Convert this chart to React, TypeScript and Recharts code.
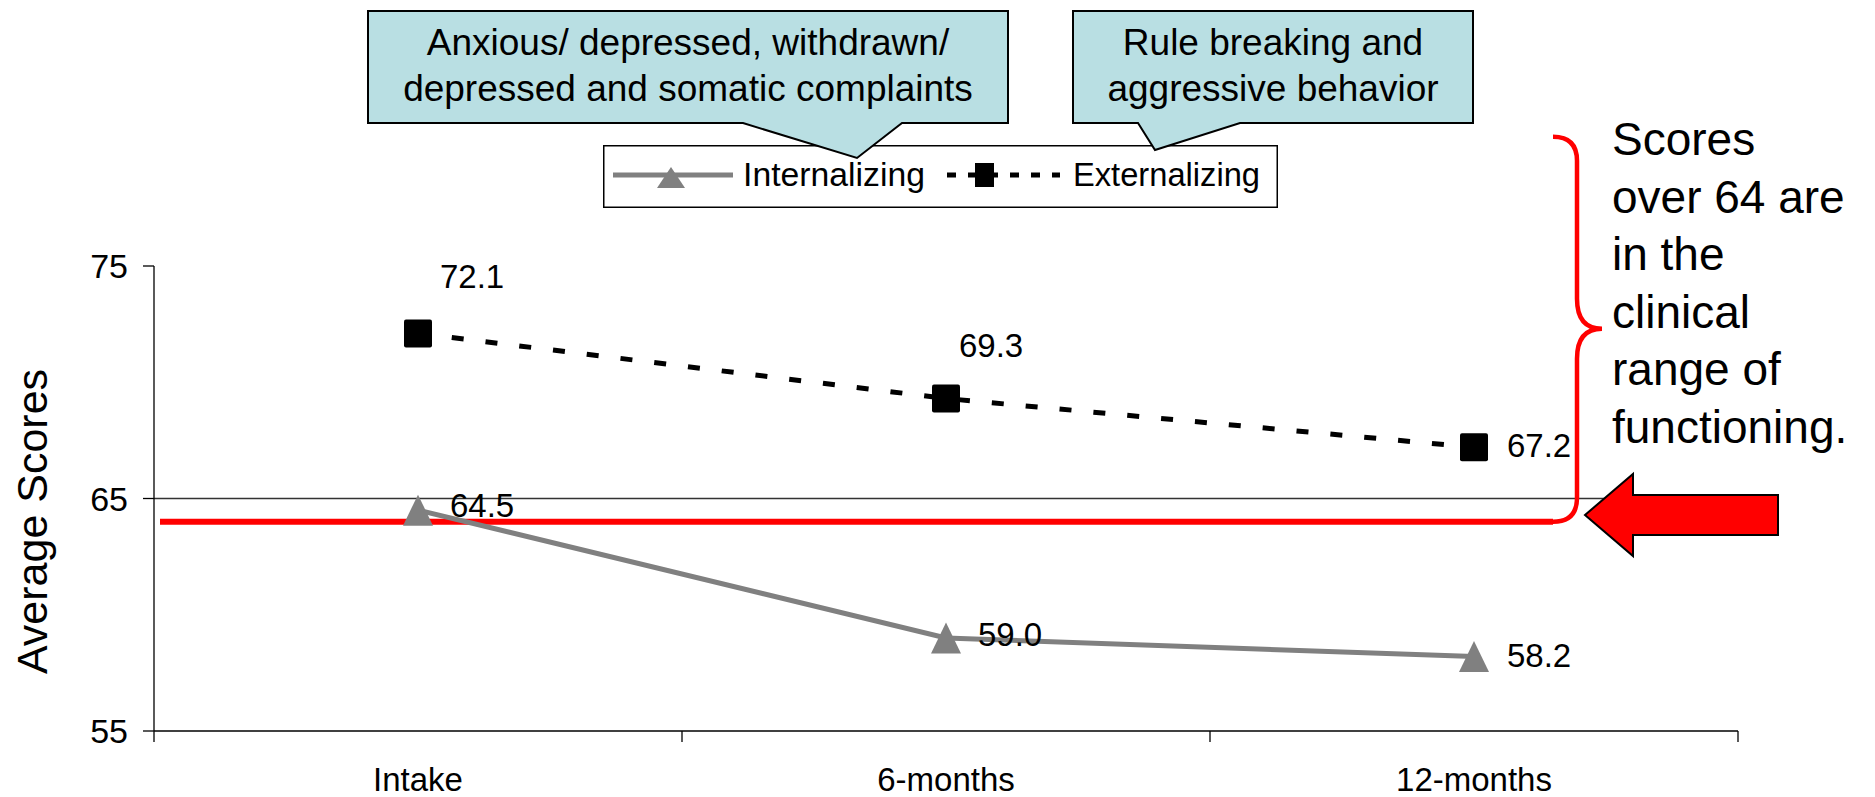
import React from 'react';
import {
  LineChart, Line, XAxis, YAxis, Legend, ReferenceLine, LabelList, Label,
} from 'recharts';

// values
const periods = ['Intake', '6-months', '12-months'];
const internalizing = [64.5, 59.0, 58.2];
const externalizing = [72.1, 69.3, 67.2];
const yTicks = [55, 65, 75];
const clinicalCutoff = 64;

// hand placed data labels on the slide: [dx, dy] from the point
const intLabelShift = [[32, 7], [32, 8], [33, 10]];
const extLabelShift = [[22, -45], [13, -42], [33, 10]];

const calloutInt = ['Anxious/ depressed, withdrawn/', 'depressed and somatic complaints'];
const calloutExt = ['Rule breaking and', 'aggressive behavior'];
const noteLines = ['Scores', 'over 64 are', 'in the', 'clinical', 'range of', 'functioning.'];

const data = periods.map((period, i) => ({
  period,
  internalizing: internalizing[i],
  externalizing: externalizing[i],
}));

const FONT = '"Liberation Sans", Arial, Helvetica, sans-serif';
const INT_COLOR = '#808080';
const EXT_COLOR = '#000000';
const CALLOUT_FILL = '#b9dfe3';

const W = 1875;
const H = 797;
const MARGIN = { top: 266, right: 137, bottom: 0, left: 0 };
const Y_AXIS_W = 154;
const X_TICK_SIZE = 11;
const X_TICK_GAP = 26;
const BAND_HALF = (W - MARGIN.right - MARGIN.left - Y_AXIS_W) / periods.length / 2;

const Triangle = (props: any) => {
  const { cx, cy } = props;
  if (cx == null || cy == null) return <g key={props.key} />;
  return (
    <polygon
      key={props.key}
      points={`${cx},${cy - 15.5} ${cx + 15},${cy + 15.5} ${cx - 15},${cy + 15.5}`}
      fill={INT_COLOR}
    />
  );
};

const Square = (props: any) => {
  const { cx, cy } = props;
  if (cx == null || cy == null) return <g key={props.key} />;
  return <rect key={props.key} x={cx - 14} y={cy - 14} width={28} height={28} rx={2} fill={EXT_COLOR} />;
};

const valueLabel = (shift: number[][]) => (p: any) => {
  const x = p.viewBox?.x ?? p.x;
  const y = p.viewBox?.y ?? p.y;
  const [dx, dy] = shift[p.index] || [30, 8];
  return (
    <text key={`lbl-${p.index}`} x={x + dx} y={y + dy} fontSize={33} fontFamily={FONT} fill="#000">
      {Number(p.value).toFixed(1)}
    </text>
  );
};

// category labels sit mid-band, tick marks sit on the band edges
const CategoryTick = (props: any) => {
  const { x, y, payload, index, visibleTicksCount } = props;
  const half = payload?.offset > 20 ? payload.offset : BAND_HALF;
  const axisY = y - X_TICK_SIZE - X_TICK_GAP;
  return (
    <g>
      <line x1={x - half} x2={x - half} y1={axisY} y2={axisY + X_TICK_SIZE} stroke="#000" strokeWidth={1.3} />
      {index === visibleTicksCount - 1 && (
        <line x1={x + half} x2={x + half} y1={axisY} y2={axisY + X_TICK_SIZE} stroke="#000" strokeWidth={1.3} />
      )}
      <text x={x} y={y} dy="0.71em" textAnchor="middle" fontSize={33} fontFamily={FONT} fill="#000">
        {payload.value}
      </text>
    </g>
  );
};

// red cut-off line with the curly brace on its right end
const ClinicalLine = (props: any) => {
  const { x1, y1, x2 } = props;
  const left = x1 + 6;
  const right = x2 - 185;
  const bx = right + 24;
  const top = y1 - 385;
  const mid = y1 - 193;
  const brace = `M${right},${y1} Q${bx},${y1} ${bx},${y1 - 24} V${mid + 30} Q${bx},${mid} ${bx + 25},${mid}`
    + ` Q${bx},${mid} ${bx},${mid - 30} V${top + 24} Q${bx},${top} ${right},${top}`;
  return (
    <g>
      <line x1={left} x2={right} y1={y1} y2={y1} stroke="#ff0000" strokeWidth={6} />
      <path d={brace} fill="none" stroke="#ff0000" strokeWidth={4.5} />
    </g>
  );
};

const LegendBox = (props: any) => {
  const items: any[] = props.payload || [];
  const intName = items.find((it) => it.dataKey === 'internalizing')?.value ?? 'Internalizing';
  const extName = items.find((it) => it.dataKey === 'externalizing')?.value ?? 'Externalizing';
  return (
    <svg width={675} height={63} style={{ display: 'block' }}>
      <rect x={0.75} y={0.75} width={673.5} height={61.5} fill="#fff" stroke="#000" strokeWidth={1.5} />
      <line x1={10} x2={130} y1={30} y2={30} stroke={INT_COLOR} strokeWidth={5} />
      <polygon points="68,22 82,43 54,43" fill={INT_COLOR} />
      <text x={140} y={41} fontSize={34} fontFamily={FONT} textLength={182} lengthAdjust="spacingAndGlyphs">
        {intName}
      </text>
      <line x1={344} x2={457} y1={30} y2={30} stroke={EXT_COLOR} strokeWidth={5} strokeDasharray="9 12" />
      <rect x={372} y={18} width={19} height={24} fill={EXT_COLOR} />
      <text x={470} y={41} fontSize={34} fontFamily={FONT} textLength={187} lengthAdjust="spacingAndGlyphs">
        {extName}
      </text>
    </svg>
  );
};

const Callout = ({ d, cx, lines }: { d: string; cx: number; lines: string[] }) => (
  <g>
    <path d={d} fill={CALLOUT_FILL} stroke="#000" strokeWidth={2} />
    {lines.map((t, i) => (
      <text key={t} x={cx} y={55 + i * 46} textAnchor="middle" fontSize={37} fontFamily={FONT} fill="#000">
        {t}
      </text>
    ))}
  </g>
);

export default function App() {
  return (
    <div style={{ position: 'absolute', left: 0, top: 0, width: W, height: H, background: '#fff' }}>
      <LineChart width={W} height={H} data={data} margin={MARGIN}>
        <XAxis
          dataKey="period"
          scale="band"
          height={66}
          interval={0}
          tickLine={false}
          tickSize={X_TICK_SIZE}
          tickMargin={X_TICK_GAP}
          tick={<CategoryTick />}
          axisLine={{ stroke: '#000', strokeWidth: 1.3 }}
        />
        <YAxis
          width={Y_AXIS_W}
          domain={[55, 75]}
          ticks={yTicks}
          interval={0}
          tickSize={11}
          tickMargin={15}
          tickLine={{ stroke: '#000', strokeWidth: 1.3 }}
          axisLine={{ stroke: '#000', strokeWidth: 1.3 }}
          tick={{ fontSize: 34, fontFamily: FONT, fill: '#000' }}
        >
          <Label
            content={(p: any) => {
              const vb = p.viewBox || { x: 0, y: 266, height: 465 };
              const cy = vb.y + vb.height / 2 + 23;
              return (
                <text
                  transform={`translate(${vb.x + 47}, ${cy}) rotate(-90)`}
                  textAnchor="middle"
                  fontSize={43}
                  fontFamily={FONT}
                  fill="#000"
                >
                  Average Scores
                </text>
              );
            }}
          />
        </YAxis>
        <ReferenceLine y={65} stroke="#333" strokeWidth={1.3} />
        <ReferenceLine y={clinicalCutoff} shape={<ClinicalLine />} />
        <Line
          dataKey="internalizing"
          name="Internalizing"
          stroke={INT_COLOR}
          strokeWidth={5}
          dot={Triangle}
          activeDot={false}
          isAnimationActive={false}
        >
          <LabelList dataKey="internalizing" content={valueLabel(intLabelShift)} />
        </Line>
        <Line
          dataKey="externalizing"
          name="Externalizing"
          stroke={EXT_COLOR}
          strokeWidth={5}
          strokeDasharray="12 22"
          dot={Square}
          activeDot={false}
          isAnimationActive={false}
        >
          <LabelList dataKey="externalizing" content={valueLabel(extLabelShift)} />
        </Line>
        <Legend
          layout="horizontal"
          verticalAlign="middle"
          align="center"
          content={<LegendBox />}
          wrapperStyle={{ left: 603, top: 145, width: 675, height: 63 }}
        />
      </LineChart>
      <svg width={W} height={H} style={{ position: 'absolute', left: 0, top: 0, pointerEvents: 'none' }}>
        <Callout d="M368,11 H1008 V123 H902 L857,158 L743,123 H368 Z" cx={688} lines={calloutInt} />
        <Callout d="M1073,11 H1473 V123 H1240 L1155,150 L1138,123 H1073 Z" cx={1273} lines={calloutExt} />
        <polygon
          points="1585,515 1633,474 1633,495 1778,495 1778,535 1633,535 1633,556"
          fill="#ff0000"
          stroke="#000"
          strokeWidth={2}
        />
        {noteLines.map((t, i) => (
          <text key={t} x={1612} y={155 + i * 57.6} fontSize={46} fontFamily={FONT} fill="#000">
            {t}
          </text>
        ))}
      </svg>
    </div>
  );
}
